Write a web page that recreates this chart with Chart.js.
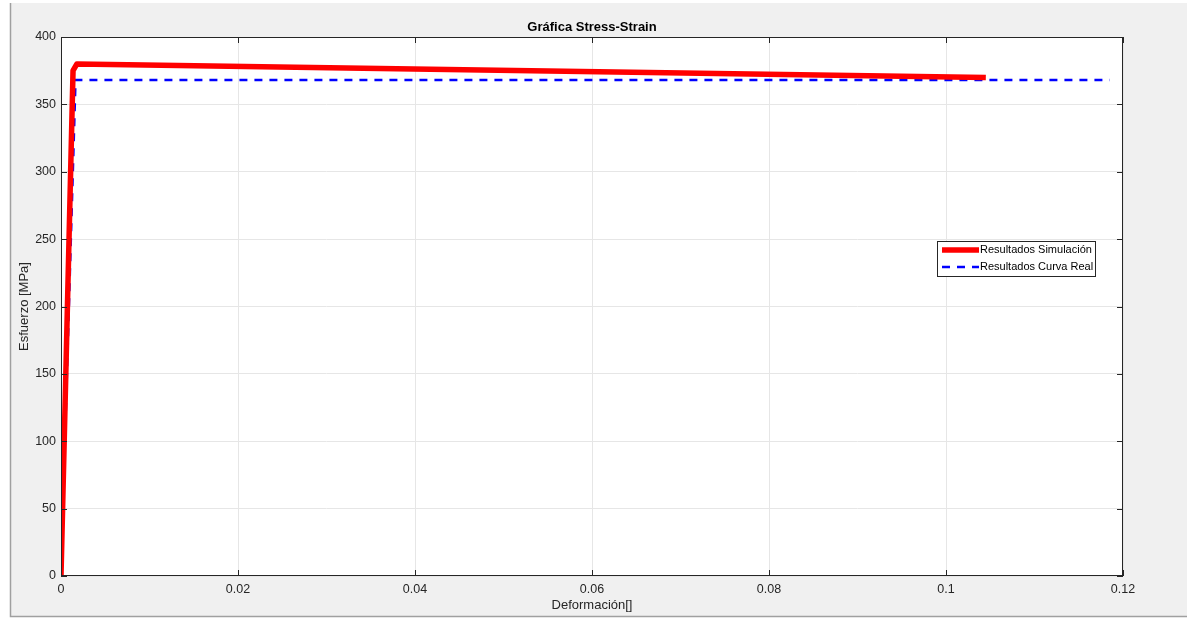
<!DOCTYPE html>
<html>
<head>
<meta charset="utf-8">
<script src="https://cdn.jsdelivr.net/npm/chart.js@4"></script>
<style>
  html, body { margin: 0; padding: 0; background: #ffffff; }
  #wrap { width: 1187px; height: 619px; }
</style>
</head>
<body>
<div id="wrap"><canvas id="grafico" width="1187" height="619"></canvas></div>
<script>
// datos
const simDeformacion = [0, 0.00136, 0.0018, 0.1045];
const simEsfuerzo = [0, 375, 380, 370];
const realDeformacion = [0, 0.00164, 0.1185];
const realEsfuerzo = [0, 368, 368];

const xTicks = [0, 0.02, 0.04, 0.06, 0.08, 0.1, 0.12];
const yTicks = [0, 50, 100, 150, 200, 250, 300, 350, 400];

const toPoints = (xs, ys) => xs.map((x, i) => ({ x: x, y: ys[i] }));

// fondo gris estilo figura
const fondo = {
  id: "fondo",
  beforeDraw(chart) {
    const ctx = chart.ctx;
    ctx.save();
    ctx.fillStyle = "#ffffff";
    ctx.fillRect(0, 0, chart.width, chart.height);
    ctx.fillStyle = "#f0f0f0";
    ctx.fillRect(10, 3, chart.width - 10, chart.height - 6);
    ctx.strokeStyle = "#a0a0a0";
    ctx.lineWidth = 1.5;
    ctx.beginPath();
    ctx.moveTo(10.5, 3);
    ctx.lineTo(10.5, chart.height - 2.5);
    ctx.lineTo(chart.width, chart.height - 2.5);
    ctx.stroke();
    const a = chart.chartArea;
    ctx.fillStyle = "#ffffff";
    ctx.fillRect(a.left, a.top, a.right - a.left, a.bottom - a.top);
    ctx.restore();
  },
  afterDatasetsDraw(chart) {
    // caja de ejes y ticks hacia adentro
    const ctx = chart.ctx;
    const a = chart.chartArea;
    ctx.save();
    ctx.strokeStyle = "#262626";
    ctx.lineWidth = 1;
    ctx.strokeRect(a.left + 0.5, a.top + 0.5, a.right - a.left - 1, a.bottom - a.top - 1);
    ctx.beginPath();
    const xs = chart.scales.x, ys = chart.scales.y;
    xTicks.forEach(v => {
      const px = Math.round(xs.getPixelForValue(v)) + 0.5;
      ctx.moveTo(px, a.bottom); ctx.lineTo(px, a.bottom - 6);
      ctx.moveTo(px, a.top); ctx.lineTo(px, a.top + 6);
    });
    yTicks.forEach(v => {
      const py = Math.round(ys.getPixelForValue(v)) + 0.5;
      ctx.moveTo(a.left, py); ctx.lineTo(a.left + 6, py);
      ctx.moveTo(a.right, py); ctx.lineTo(a.right - 6, py);
    });
    ctx.stroke();
    ctx.restore();
  }
};

// leyenda dentro del area
const leyenda = {
  id: "leyenda",
  afterDraw(chart) {
    const ctx = chart.ctx;
    const bx = 937, by = 241, bw = 158, bh = 35;
    ctx.save();
    ctx.fillStyle = "#ffffff";
    ctx.fillRect(bx, by, bw, bh);
    ctx.strokeStyle = "#262626";
    ctx.lineWidth = 1;
    ctx.strokeRect(bx + 0.5, by + 0.5, bw, bh);
    ctx.font = "11px 'Liberation Sans', Arial, sans-serif";
    ctx.textBaseline = "middle";
    chart.data.datasets.forEach((ds, i) => {
      const y = by + 9 + i * 17;
      ctx.strokeStyle = ds.borderColor;
      ctx.lineWidth = ds.borderWidth;
      ctx.setLineDash(ds.borderDash || []);
      ctx.beginPath();
      ctx.moveTo(bx + 5, y);
      ctx.lineTo(bx + 42, y);
      ctx.stroke();
      ctx.setLineDash([]);
      ctx.fillStyle = "#000000";
      ctx.fillText(ds.label, bx + 43, y);
    });
    ctx.restore();
  }
};

const fuente = "'Liberation Sans', Arial, sans-serif";

const config = {
  type: "line",
  data: {
    datasets: [
      {
        label: "Resultados Simulación",
        data: toPoints(simDeformacion, simEsfuerzo),
        borderColor: "#ff0000",
        borderWidth: 5.5,
        borderJoinStyle: "round",
        pointRadius: 0,
        fill: false,
        tension: 0
      },
      {
        label: "Resultados Curva Real",
        data: toPoints(realDeformacion, realEsfuerzo),
        borderColor: "#0000ff",
        borderWidth: 2.5,
        borderDash: [8, 7],
        pointRadius: 0,
        fill: false,
        tension: 0
      }
    ]
  },
  options: {
    responsive: false,
    animation: false,
    layout: { padding: { left: 0, right: 64, top: 0, bottom: 0 } },
    plugins: {
      legend: { display: false },
      tooltip: { enabled: false },
      title: {
        display: true,
        fullSize: false,
        text: "Gráfica Stress-Strain",
        color: "#000000",
        font: { family: fuente, size: 13, weight: "bold" },
        padding: { top: 19.5, bottom: 1.9 }
      }
    },
    scales: {
      x: {
        type: "linear",
        min: 0,
        max: 0.12,
        afterFit: s => { s.height = 43; },
        afterBuildTicks: s => { s.ticks = xTicks.map(v => ({ value: v })); },
        grid: { color: "#e6e6e6", drawTicks: false },
        border: { display: false },
        ticks: {
          color: "#262626",
          padding: 6,
          font: { family: fuente, size: 12.5 },
          callback: v => String(v)
        },
        title: {
          display: true,
          text: "Deformación[]",
          color: "#262626",
          font: { family: fuente, size: 13 },
          padding: { top: 0, bottom: 6 }
        }
      },
      y: {
        min: 0,
        max: 400,
        afterFit: s => { s.width = 61; },
        afterBuildTicks: s => { s.ticks = yTicks.map(v => ({ value: v })); },
        grid: { color: "#e6e6e6", drawTicks: false },
        border: { display: false },
        ticks: {
          color: "#262626",
          padding: 5,
          font: { family: fuente, size: 12.5 }
        },
        title: {
          display: true,
          text: "Esfuerzo [MPa]",
          color: "#262626",
          font: { family: fuente, size: 13 },
          padding: { top: 17, bottom: 0 }
        }
      }
    }
  },
  plugins: [fondo, leyenda]
};

new Chart(document.getElementById("grafico"), config);
</script>
</body>
</html>
